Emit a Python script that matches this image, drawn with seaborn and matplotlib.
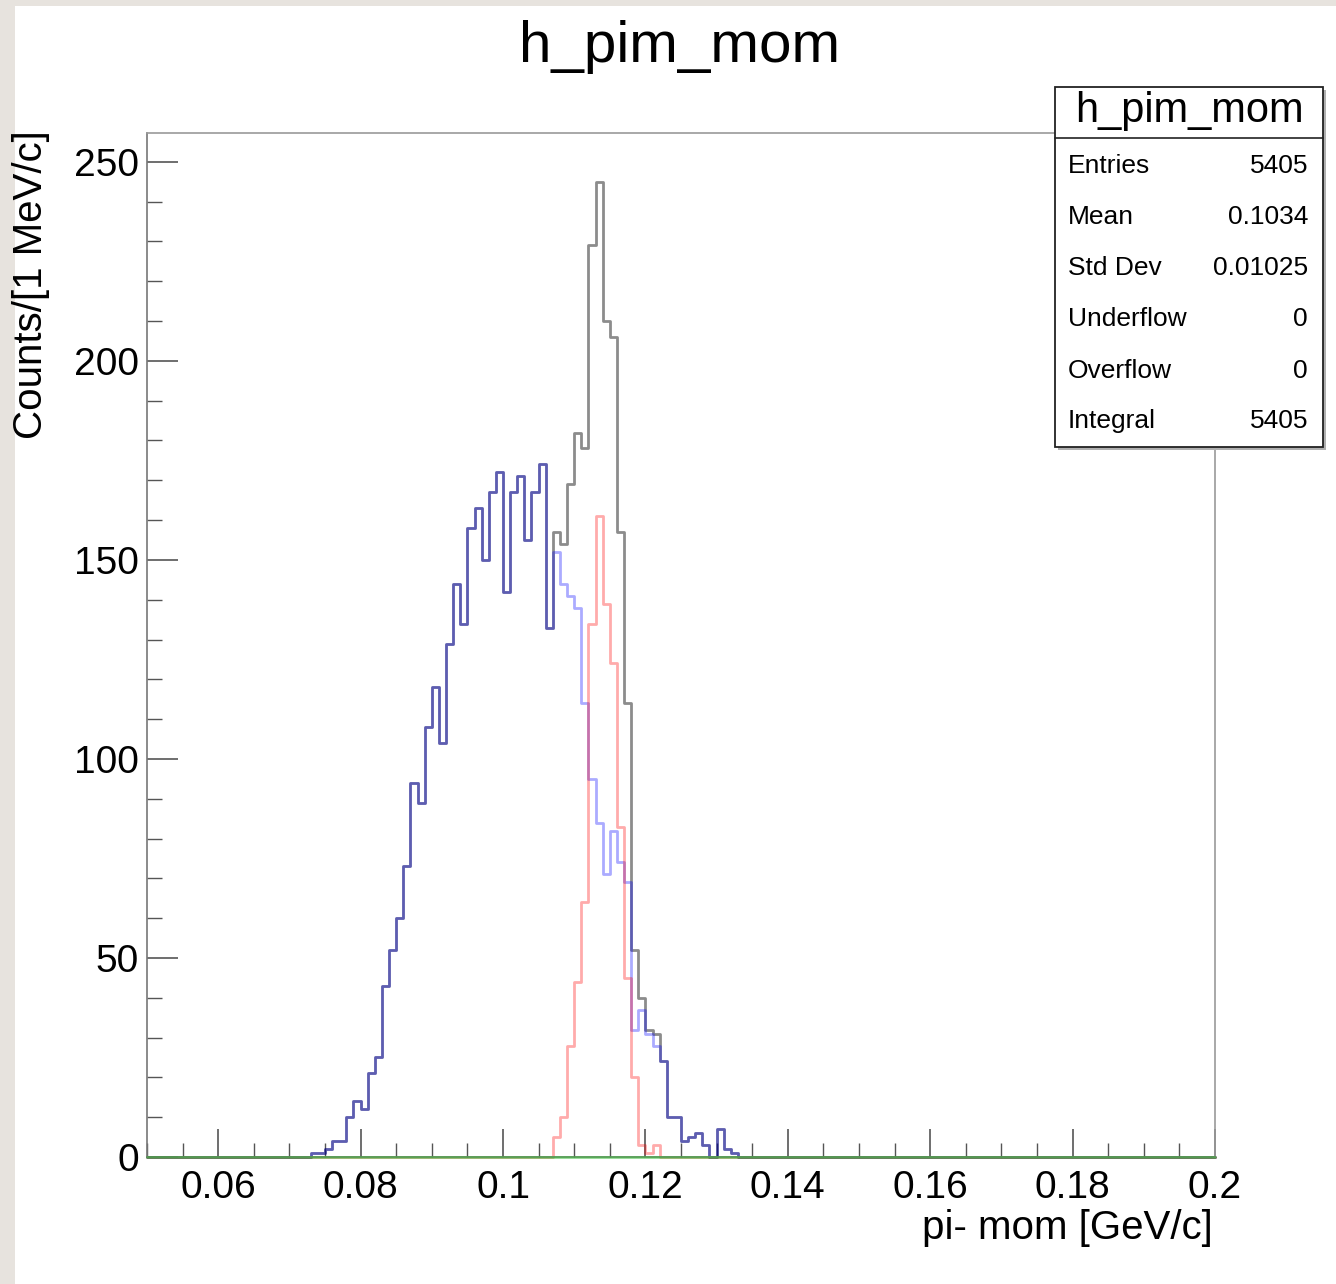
import numpy as np
import pandas as pd
import matplotlib
matplotlib.use("Agg")
import matplotlib.pyplot as plt
from matplotlib.patches import Rectangle
from matplotlib.lines import Line2D
from matplotlib.ticker import FixedLocator, MultipleLocator
import seaborn as sns

# ---------------- data (1 MeV/c bins) ----------------
x_min, x_max, bin_width = 0.050, 0.200, 0.001
first_filled_bin_low = 0.072   # lower edge of first listed bin

# total (black) histogram, bins 0.072 ... 0.133
total_counts = [0, 1, 1, 2, 4, 4, 10, 14, 12, 21, 25, 43, 52, 60,
                73, 94, 89, 108, 118, 104, 129, 144, 134, 158, 163, 150,
                167, 172, 142, 167, 171, 155, 167, 174, 133,
                157, 154, 169, 182, 178, 229, 245, 210, 206, 157, 114, 52,
                40, 32, 31, 24, 10, 10, 4, 5, 6, 3, 0, 7, 2, 1, 0]
# blue component
blue_counts = [0, 1, 1, 2, 4, 4, 10, 14, 12, 21, 25, 43, 52, 60,
               73, 94, 89, 108, 118, 104, 129, 144, 134, 158, 163, 150,
               167, 172, 142, 167, 171, 155, 167, 174, 133,
               152, 144, 141, 138, 114, 95, 84, 71, 82, 74, 69, 32,
               37, 31, 28, 24, 10, 10, 4, 5, 6, 3, 0, 7, 2, 1, 0]
# red component
red_counts = [0, 0, 0, 0, 0, 0, 0, 0, 0, 0, 0, 0, 0, 0,
              0, 0, 0, 0, 0, 0, 0, 0, 0, 0, 0, 0,
              0, 0, 0, 0, 0, 0, 0, 0, 0,
              5, 10, 28, 44, 64, 134, 161, 139, 124, 83, 45, 20,
              3, 1, 3, 0, 0, 0, 0, 0, 0, 0, 0, 0, 0, 0, 0]
# green component (empty)
green_counts = [0] * len(total_counts)

x_tick_values = [0.06, 0.08, 0.10, 0.12, 0.14, 0.16, 0.18, 0.20]
x_tick_labels = ["0.06", "0.08", "0.1", "0.12", "0.14", "0.16", "0.18", "0.2"]
y_tick_values = [0, 50, 100, 150, 200, 250]

stats_names = ["Entries", "Mean", "Std Dev", "Underflow", "Overflow", "Integral"]
stats_values = ["5405", "0.1034", "0.01025", "0", "0", "5405"]

# ---------------- build full-range step tables ----------------
n_bins = int(round((x_max - x_min) / bin_width))
edges = np.round(np.linspace(x_min, x_max, n_bins + 1), 4)
offset = int(round((first_filled_bin_low - x_min) / bin_width))


def step_frame(arr):
    out = np.zeros(n_bins)
    out[offset:offset + len(arr)] = arr
    y = np.append(out, out[-1])          # steps-post needs a closing value
    return pd.DataFrame({"mom": edges, "counts": y})


# ---------------- figure ----------------
sns.set_theme(style="white")
plt.rcParams["font.family"] = ["Liberation Sans", "DejaVu Sans"]
plt.rcParams["text.color"] = "black"

W, H = 1336, 1284
fig = plt.figure(figsize=(W / 100, H / 100), dpi=100)
fig.patch.set_facecolor("white")

# textured page border of the screenshot
fig.patches.append(Rectangle((0, 0), 15 / W, 1, transform=fig.transFigure,
                             facecolor="#e7e3de", edgecolor="none", zorder=0))
fig.patches.append(Rectangle((0, 1 - 6 / H), 1, 6 / H, transform=fig.transFigure,
                             facecolor="#e7e3de", edgecolor="none", zorder=0))

ax = fig.add_axes([147 / W, 1 - 1157 / H, (1215 - 147) / W, (1157 - 133) / H])
ax.set_facecolor("white")

styles = [(total_counts, "#000000", 0.45, 2),
          (blue_counts, "#0000ff", 0.33, 2),
          (red_counts, "#ff0000", 0.33, 2),
          (green_counts, "#33bb33", 0.55, 4)]
for arr, color, alpha, z in styles:
    sns.lineplot(data=step_frame(arr), x="mom", y="counts", estimator=None,
                 sort=False, drawstyle="steps-post", color=color, alpha=alpha,
                 linewidth=2.0, ax=ax, zorder=z, clip_on=False)

ax.set_xlim(x_min, x_max)
ax.set_ylim(0, 257.25)
ax.set_xlabel("")
ax.set_ylabel("")

ax.xaxis.set_major_locator(FixedLocator(x_tick_values))
ax.set_xticklabels(x_tick_labels)
ax.xaxis.set_minor_locator(MultipleLocator(0.005))
ax.yaxis.set_major_locator(FixedLocator(y_tick_values))
ax.yaxis.set_minor_locator(MultipleLocator(10))

ax.tick_params(axis="both", which="both", direction="in", colors="#555555",
               labelcolor="black", labelsize=28, top=False, right=False,
               bottom=True, left=True)
ax.tick_params(axis="y", which="major", length=22, width=1.2, pad=6)
ax.tick_params(axis="y", which="minor", length=11, width=1.0)
ax.tick_params(axis="x", which="major", length=20, width=1.2, pad=9)
ax.tick_params(axis="x", which="minor", length=10, width=1.0)

for side in ["left", "bottom"]:
    ax.spines[side].set_color("#777777")
    ax.spines[side].set_linewidth(1.2)
for side in ["top", "right"]:
    ax.spines[side].set_visible(True)
    ax.spines[side].set_color("#9a9a9a")
    ax.spines[side].set_linewidth(1.2)

# titles
fig.text(680 / W, 1 - 47 / H, "h_pim_mom", ha="center", va="center", fontsize=42,
         color="black")
fig.text(31 / W, 1 - 130 / H, "Counts/[1 MeV/c]", rotation=90, ha="center",
         va="top", fontsize=29, color="black")
fig.text(1213 / W, 1 - 1228 / H, "pi- mom [GeV/c]", ha="right", va="center",
         fontsize=29, color="black")

# stats box
bx0, bx1 = 1055 / W, 1323 / W
by_top, by_bot = 1 - 87 / H, 1 - 447 / H
fig.patches.append(Rectangle((bx0 + 3 / W, by_bot - 3 / H), bx1 - bx0, by_top - by_bot,
                             transform=fig.transFigure, facecolor="#b0b0b0",
                             edgecolor="none", zorder=5))
fig.patches.append(Rectangle((bx0, by_bot), bx1 - bx0, by_top - by_bot,
                             transform=fig.transFigure, facecolor="white",
                             edgecolor="#222222", linewidth=1.3, zorder=6))
fig.lines.append(Line2D([bx0, bx1], [1 - 138 / H, 1 - 138 / H], transform=fig.transFigure,
                        color="#222222", linewidth=1.2, zorder=7))
fig.text((bx0 + bx1) / 2, 1 - 111 / H, "h_pim_mom", ha="center", va="center",
         fontsize=30, zorder=8, color="black")
row_y = [166, 217, 268, 319, 371, 421]
for name, val, yy in zip(stats_names, stats_values, row_y):
    fig.text(1068 / W, 1 - yy / H, name, ha="left", va="center", fontsize=19,
             zorder=8, color="black")
    fig.text(1308 / W, 1 - yy / H, val, ha="right", va="center", fontsize=19,
             zorder=8, color="black")

fig.savefig("out.png", dpi=100, facecolor=fig.get_facecolor())
